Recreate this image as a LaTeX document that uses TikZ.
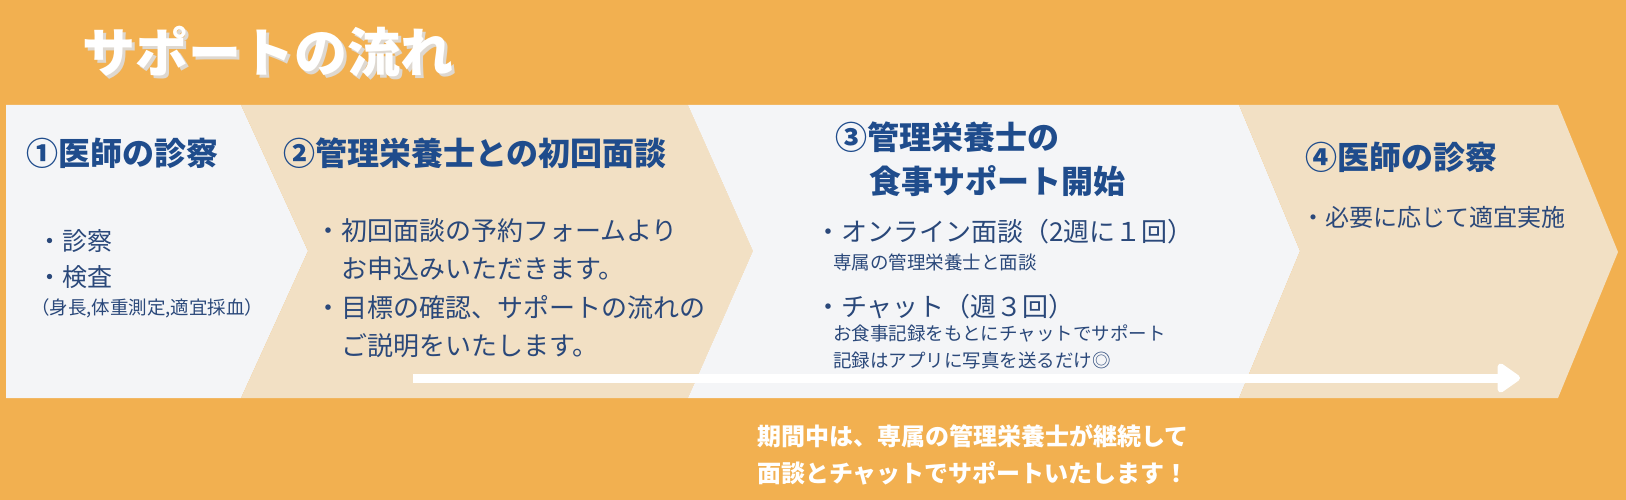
\documentclass[tikz,border=0pt]{standalone}
\usepackage{fontspec}
\setmainfont{Noto Sans CJK JP}
\usepackage{tikz}
\usetikzlibrary{arrows.meta}

\definecolor{bgorange}{RGB}{242,176,80}
\definecolor{panelgrey}{RGB}{244,245,247}
\definecolor{paneltan}{RGB}{242,224,196}
\definecolor{headblue}{RGB}{31,76,140}
\definecolor{textblue}{RGB}{42,72,122}
\definecolor{shadowgrey}{RGB}{222,216,208}

\begin{document}
\begin{tikzpicture}[x=1pt,y=-1pt,
	head/.style={anchor=west,inner sep=0pt,text=headblue,font=\fontsize{32}{44}\selectfont\bfseries},
	txt/.style={anchor=west,inner sep=0pt,text=textblue,align=left,font=\fontsize{26}{38.5}\selectfont},
	small/.style={anchor=west,inner sep=0pt,text=textblue,align=left,font=\fontsize{18.5}{27}\selectfont}]
		\useasboundingbox (0,0) rectangle (1626,500);
		\fill[bgorange] (0,0) rectangle (1626,500);
		
		\fill[panelgrey] (6,105) -- (241,105) -- (308,251) -- (241,398) -- (6,398) -- cycle;
		\fill[paneltan] (241,105) -- (688,105) -- (753,251) -- (688,398) -- (241,398) -- (308,251) -- cycle;
		\fill[panelgrey] (688,105) -- (1239,105) -- (1300,251) -- (1239,398) -- (688,398) -- (753,251) -- cycle;
		\fill[paneltan] (1239,105) -- (1558,105) -- (1618,252) -- (1558,398) -- (1239,398) -- (1300,251) -- cycle;
		
		\node[anchor=west,inner sep=0pt,text=shadowgrey,font=\fontsize{53}{60}\selectfont\bfseries] (TS) at (85,55) {サポートの流れ};
		\node[anchor=west,inner sep=0pt,text=white,font=\fontsize{53}{60}\selectfont\bfseries] (T) at (82,52) {サポートの流れ};
		
		\node[head] (H1) at (26,153) {①医師の診察};
		\node[txt,font=\fontsize{25}{36}\selectfont] (B1) at (37,259) {・診察\\・検査};
		\node[small] (S1) at (31,308) {（身長,体重測定,適宜採血）};
		
		\node[head] (H2) at (283,153) {②管理栄養士との初回面談};
		\node[txt] (B2) at (315,288) {・初回面談の予約フォームより\\　お申込みいただきます。\\・目標の確認、サポートの流れの\\　ご説明をいたします。};
		
		\node[head] (H3) at (835,137) {③管理栄養士の};
		\node[head] (H3b) at (869,181) {食事サポート開始};
		\node[txt] (B3) at (815,232) {・オンライン面談（2週に１回）};
		\node[small] (S3) at (833,262) {専属の管理栄養士と面談};
		\node[txt] (B3b) at (815,307) {・チャット（週３回）};
		\node[small] (S3b) at (833,347) {お食事記録をもとにチャットでサポート\\記録はアプリに写真を送るだけ◎};
		
		\node[head] (H4) at (1305,157) {④医師の診察};
		\node[txt,font=\fontsize{24}{36}\selectfont] (B4) at (1301,217) {・必要に応じて適宜実施};
		
		\coordinate (P) at (413,378);
		\coordinate (Q) at (1520,378);
		\path [-{Triangle[length=25pt,width=33pt,round]}, line width=9pt, white] (P) edge (Q);
		
		\node[anchor=west,inner sep=0pt,text=white,align=left,font=\fontsize{24}{37}\selectfont\bfseries] (N) at (757,455) {期間中は、専属の管理栄養士が継続して\\面談とチャットでサポートいたします！};
\end{tikzpicture}
\end{document}
